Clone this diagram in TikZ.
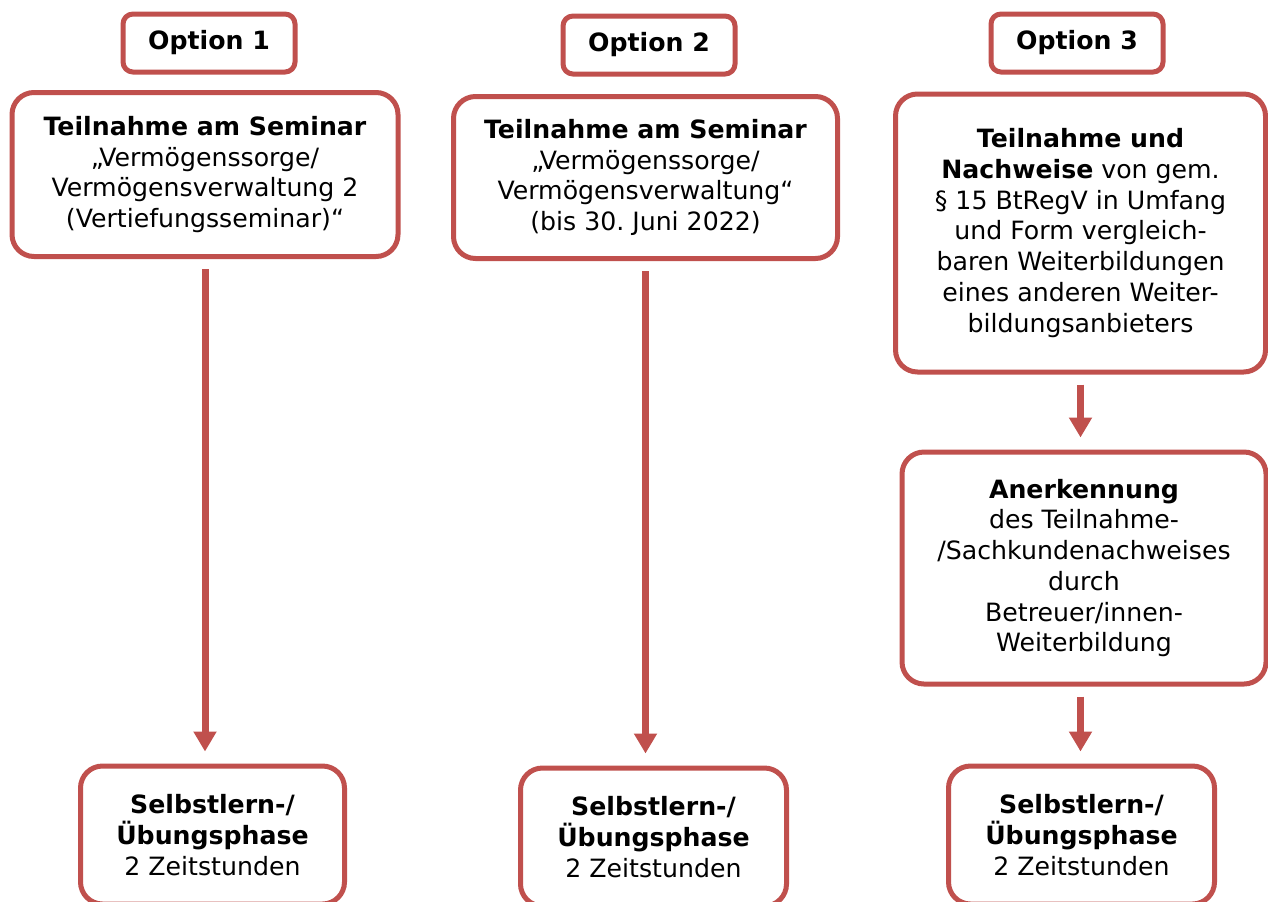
\documentclass[tikz,border=0pt]{standalone}
\usepackage{fontspec}
\setmainfont{DejaVu Sans}
\usetikzlibrary{arrows.meta}
\definecolor{optred}{HTML}{C0504D}
\frenchspacing
\begin{document}
\begin{tikzpicture}
    [
    x=0.5pt,y=-0.5pt,
    box/.style={draw=optred,line width=2.5pt,fill=white,align=center,inner sep=0pt,
      font=\fontsize{12.6}{15.35}\selectfont},
    optbox/.style={box,rounded corners=5pt,minimum width=86pt,minimum height=29pt,font=\fontsize{12.6}{15}\selectfont\bfseries},
    stepbox/.style={box,rounded corners=11pt},
    flow/.style={optred,line width=3.5pt,-{Triangle[width=11pt,length=10pt]},shorten <=5pt,shorten >=6pt}
    ]
    \useasboundingbox (0,0) rectangle (1268,901);
    % option heads
    \node (o1) at (209,43) [optbox] {Option 1};
    \node (o2) at (649,45) [optbox] {Option 2};
    \node (o3) at (1077,43) [optbox] {Option 3};
    % seminar boxes
    \node (t1) at (205,174.5) [stepbox,minimum width=193pt,minimum height=82pt]
      {\textbf{Teilnahme am Seminar}\\„Vermögenssorge/\\Vermögensverwaltung 2\\(Vertiefungsseminar)“};
    \node (t2) at (645.5,177.5) [stepbox,minimum width=192pt,minimum height=81pt]
      {\textbf{Teilnahme am Seminar}\\„Vermögenssorge/\\Vermögensverwaltung“\\(bis 30. Juni 2022)};
    \node (t3) at (1080.5,233) [stepbox,minimum width=185pt,minimum height=139pt]
      {\textbf{Teilnahme und}\\\textbf{Nachweise} von gem.\\§ 15 BtRegV in Umfang\\und Form vergleich-\\baren Weiterbildungen\\eines anderen Weiter-\\bildungsanbieters};
    \node (a3) at (1084,568) [stepbox,minimum width=182pt,minimum height=116pt]
      {\textbf{Anerkennung}\\des Teilnahme-\\/Sachkundenachweises\\durch\\Betreuer/innen-\\Weiterbildung};
    % self study (bottom edge at the page border)
    \node (s1) at (212.5,835) [stepbox,minimum width=132pt,minimum height=69pt]
      {\textbf{Selbstlern-/}\\\textbf{Übungsphase}\\2 Zeitstunden};
    \node (s2) at (653.5,837) [stepbox,minimum width=133pt,minimum height=69pt]
      {\textbf{Selbstlern-/}\\\textbf{Übungsphase}\\2 Zeitstunden};
    \node (s3) at (1081.5,835) [stepbox,minimum width=133pt,minimum height=69pt]
      {\textbf{Selbstlern-/}\\\textbf{Übungsphase}\\2 Zeitstunden};
    \draw [flow] (t1.south) to (t1.south |- s1.north);
    \draw [flow] (t2.south) to (t2.south |- s2.north);
    \draw [flow] (t3.south) to (t3.south |- a3.north);
    \draw [flow] (a3.south -| t3.south) to (t3.south |- s3.north);
  \end{tikzpicture}
\end{document}
